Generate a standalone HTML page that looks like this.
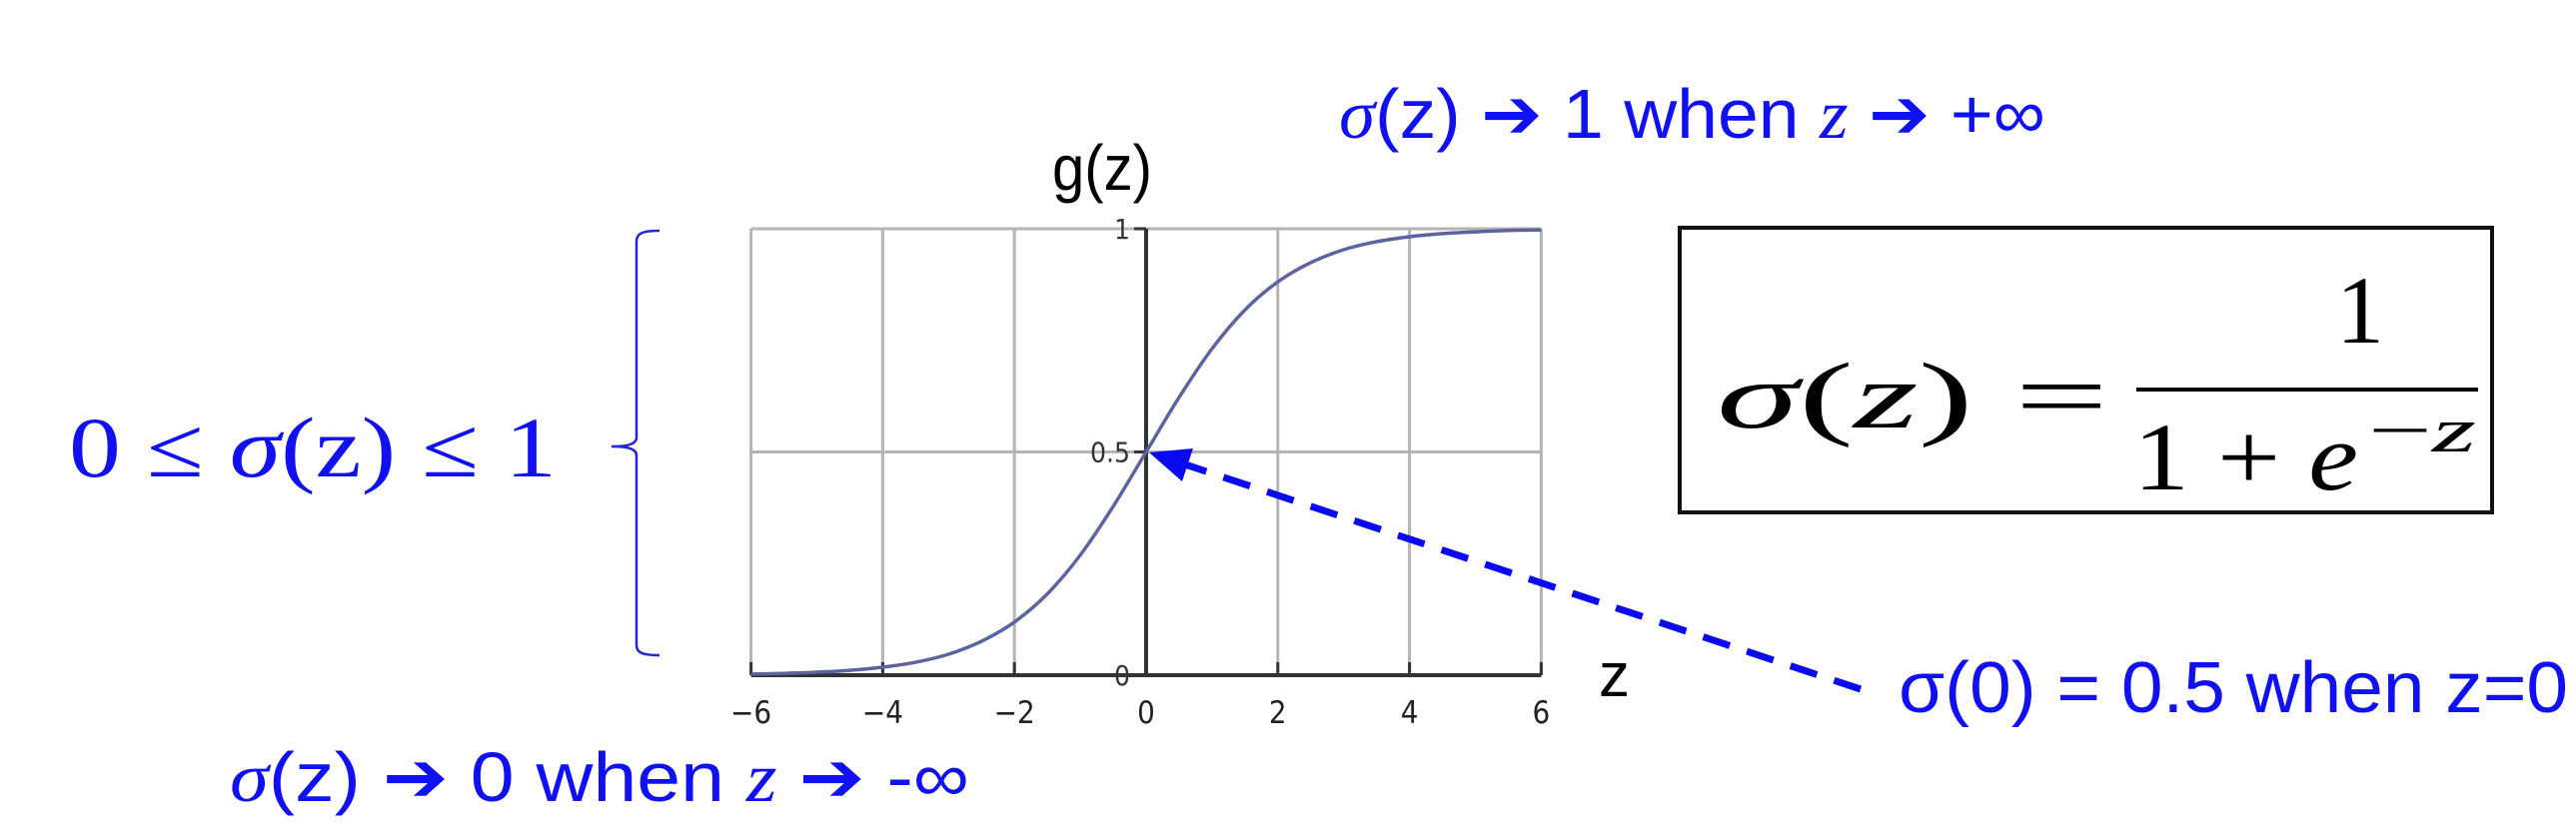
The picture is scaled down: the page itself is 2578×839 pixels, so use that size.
<!DOCTYPE html>
<html><head><meta charset="utf-8">
<style>
html,body{margin:0;padding:0;background:#fff;}
svg{display:block;}
.blue{fill:#1010f0;}
.sans{font-family:"Liberation Sans Narrow","Liberation Sans","DejaVu Sans",sans-serif;}
.serif{font-family:"Liberation Serif",serif;}
</style></head>
<body>
<svg id="chart" width="2578" height="839" viewBox="0 0 2578 839" xmlns="http://www.w3.org/2000/svg">
  <g id="grid"></g>
  <g id="axes"></g>
  <path id="curve" fill="none" stroke="#5b649e" stroke-width="3.5"/>
  <g id="ticks"></g>

  <text x="1053" y="190" class="sans" font-size="64" fill="#000" textLength="100" lengthAdjust="spacingAndGlyphs">g(z)</text>
  <text x="1600" y="697" class="sans" font-size="62" fill="#000">z</text>

  <text x="1340" y="138" class="sans blue" font-size="70" textLength="707" lengthAdjust="spacingAndGlyphs"><tspan class="serif" font-style="italic">σ</tspan>(z) ➔ 1 when <tspan class="serif" font-style="italic">z</tspan> ➔ +∞</text>
  <text x="230" y="802" class="sans blue" font-size="70" textLength="740" lengthAdjust="spacingAndGlyphs"><tspan class="serif" font-style="italic">σ</tspan>(z) ➔ 0 when <tspan class="serif" font-style="italic">z</tspan> ➔ -∞</text>
  <text x="1900" y="713" class="sans blue" font-size="72" textLength="670" lengthAdjust="spacingAndGlyphs">σ(0) = 0.5 when z=0</text>

  <text x="69" y="477" class="serif blue" font-size="86" textLength="488" lengthAdjust="spacingAndGlyphs">0 ≤ <tspan font-style="italic">σ</tspan>(z) ≤ 1</text>
  <path d="M660,231 C642,231 637,234 637,242 L637,438 C637,444 630,447 612,447 C630,447 637,450 637,456 L637,646 C637,653 642,656 660,656" fill="none" stroke="#2424d8" stroke-width="2.5"/>

  <g>
    <rect x="1681" y="228" width="813" height="285" fill="#fff" stroke="#111" stroke-width="4"/>
    <text x="1718" y="428" class="serif" font-size="94" fill="#000" textLength="392" lengthAdjust="spacingAndGlyphs"><tspan font-style="italic">σ</tspan>(<tspan font-style="italic">z</tspan>) =</text>
    <line x1="2138" y1="390" x2="2480" y2="390" stroke="#000" stroke-width="4"/>
    <text x="2362" y="343" class="serif" font-size="96" fill="#000" text-anchor="middle">1</text>
    <text x="2135" y="490" class="serif" font-size="96" fill="#000" textLength="225" lengthAdjust="spacingAndGlyphs">1 + <tspan font-style="italic">e</tspan></text>
    <text x="2370" y="452" class="serif" font-size="64" fill="#000" textLength="108" lengthAdjust="spacingAndGlyphs">−<tspan font-style="italic">z</tspan></text>
  </g>

  <g>
    <line x1="1862" y1="690" x2="1180" y2="463" stroke="#0a0af0" stroke-width="7" stroke-dasharray="28 18"/>
    <polygon points="1150,453 1194,449 1183,482" fill="#0a0af0"/>
  </g>
</svg>
<script>
const zVals = [-6,-5.5,-5,-4.5,-4,-3.5,-3,-2.5,-2,-1.5,-1,-0.5,0,0.5,1,1.5,2,2.5,3,3.5,4,4.5,5,5.5,6];
const gVals = [0.0025,0.004,0.0067,0.011,0.018,0.029,0.047,0.076,0.119,0.182,0.269,0.378,0.5,0.622,0.731,0.818,0.881,0.924,0.953,0.971,0.982,0.989,0.993,0.996,0.9975];
const xTicks = [-6,-4,-2,0,2,4,6];
const xTickLabels = ["−6","−4","−2","0","2","4","6"];
const yTicks = [0,0.5,1];
const yTickLabels = ["0","0.5","1"];

const NS = "http://www.w3.org/2000/svg";
const X = z => 1147 + z * 65.9;
const Y = g => 676 - g * 447;
function mk(tag, attrs, parent){
  const e = document.createElementNS(NS, tag);
  for (const k in attrs) e.setAttribute(k, attrs[k]);
  parent.appendChild(e); return e;
}
const grid = document.getElementById('grid');
const axes = document.getElementById('axes');
const ticks = document.getElementById('ticks');

xTicks.forEach((t, i) => {
  const l = mk('line', {x1:X(t), y1:Y(1), x2:X(t), y2:Y(0), stroke:'#b4b4b4', 'stroke-width':3}, grid);
  
  
  const tk = mk('line', {x1:X(t), y1:Y(0), x2:X(t), y2:Y(0)-13, stroke:'#333', 'stroke-width':3}, axes);
  
  
  const tx = mk('text', {x:X(t), y:724, 'text-anchor':'middle', 'font-size':31, 'font-family':'"DejaVu Sans Condensed","DejaVu Sans",sans-serif', fill:'#222'}, ticks);
  tx.textContent = xTickLabels[i];
  
  
});
yTicks.forEach((t, i) => {
  if (t > 0) {
    const l = mk('line', {x1:X(-6), y1:Y(t), x2:X(6), y2:Y(t), stroke:'#b4b4b4', 'stroke-width':3}, grid);
    
    
  }
  const tk = mk('line', {x1:X(0)-12, y1:Y(t), x2:X(0), y2:Y(t), stroke:'#333', 'stroke-width':3}, axes);
  
  
  const tx = mk('text', {x:X(0)-16, y:Y(t)+10, 'text-anchor':'end', 'font-size':28, 'font-family':'"DejaVu Sans Condensed","DejaVu Sans",sans-serif', fill:'#333'}, ticks);
  tx.textContent = yTickLabels[i];
  
  
});
const xa = mk('line', {x1:X(-6), y1:Y(0), x2:X(6), y2:Y(0), stroke:'#333', 'stroke-width':4}, axes);


const ya = mk('line', {x1:X(0), y1:Y(1), x2:X(0), y2:Y(0), stroke:'#333', 'stroke-width':4}, axes);



const pts = zVals.map((z, i) => [X(z), Y(gVals[i])]);
let d = 'M' + pts[0][0] + ',' + pts[0][1];
for (let i = 0; i < pts.length - 1; i++) {
  const p0 = pts[Math.max(0, i-1)], p1 = pts[i], p2 = pts[i+1], p3 = pts[Math.min(pts.length-1, i+2)];
  const c1 = [p1[0] + (p2[0]-p0[0])/6, p1[1] + (p2[1]-p0[1])/6];
  const c2 = [p2[0] - (p3[0]-p1[0])/6, p2[1] - (p3[1]-p1[1])/6];
  d += ' C' + c1.join(',') + ' ' + c2.join(',') + ' ' + p2.join(',');
}
document.getElementById('curve').setAttribute('d', d);
</script>
</body></html>
